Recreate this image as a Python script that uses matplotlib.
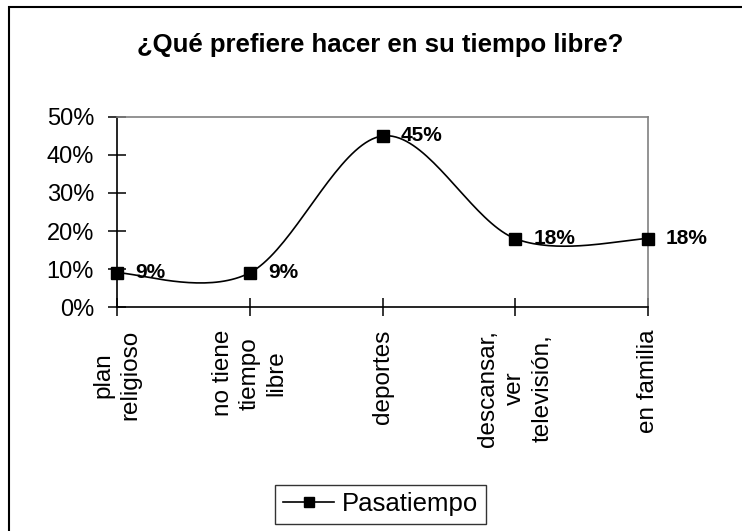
import numpy as np
import matplotlib.pyplot as plt
from matplotlib.patches import Rectangle

plt.rcParams['font.family'] = ['Liberation Sans', 'DejaVu Sans']

# Data
categorias = ['plan\nreligioso', 'no tiene\ntiempo\nlibre', 'deportes',
              'descansar,\nver\ntelevisión,', 'en familia']
valores = [0.09, 0.09, 0.45, 0.18, 0.18]
etiquetas = ['9%', '9%', '45%', '18%', '18%']
serie = 'Pasatiempo'
yticks = [0, 0.1, 0.2, 0.3, 0.4, 0.5]
ytick_labels = ['0%', '10%', '20%', '30%', '40%', '50%']


def suavizar(x, y, n=40):
    # Excel-style smoothed line (Bezier with 1/6 tangents)
    x = np.asarray(x, float)
    y = np.asarray(y, float)
    px = np.concatenate([[x[0]], x, [x[-1]]])
    py = np.concatenate([[y[0]], y, [y[-1]]])
    xs, ys = [], []
    t = np.linspace(0, 1, n)
    for i in range(1, len(px) - 2):
        p0 = np.array([px[i], py[i]])
        p3 = np.array([px[i + 1], py[i + 1]])
        p1 = p0 + (np.array([px[i + 1], py[i + 1]]) - np.array([px[i - 1], py[i - 1]])) / 6
        p2 = p3 - (np.array([px[i + 2], py[i + 2]]) - np.array([px[i], py[i]])) / 6
        b = ((1 - t) ** 3)[:, None] * p0 + (3 * (1 - t) ** 2 * t)[:, None] * p1 \
            + (3 * (1 - t) * t ** 2)[:, None] * p2 + (t ** 3)[:, None] * p3
        xs.extend(b[:, 0])
        ys.extend(b[:, 1])
    return np.array(xs), np.array(ys)


fig = plt.figure(figsize=(7.42, 5.31), dpi=100)
ax = fig.add_axes([0.1577, 0.4218, 0.7156, 0.3579])

x = np.arange(len(categorias))
sx, sy = suavizar(x, valores)
ax.plot(sx, sy, color='black', lw=1.2, zorder=3, clip_on=False)
ax.plot(x, valores, 's', color='black', markersize=8.5, zorder=4, clip_on=False)
# legend proxy
ax.plot([], [], '-s', color='black', lw=1.2, markersize=7, label=serie)

for xi, v, lab in zip(x, valores, etiquetas):
    ax.annotate(lab, (xi, v), xytext=(13, 0), textcoords='offset points',
                ha='left', va='center', fontsize=15, fontweight='bold', zorder=5)

ax.set_xlim(0, len(categorias) - 1)
ax.set_ylim(0, 0.5)
ax.set_yticks(yticks)
ax.set_yticklabels(ytick_labels, fontsize=17)
ax.set_xticks(x)
ax.set_xticklabels(categorias, rotation=90, fontsize=17.5, ha='center', va='top',
                   multialignment='center', linespacing=1.3)
ax.tick_params(axis='both', direction='inout', length=13, width=1.1, color='black')
ax.tick_params(axis='y', pad=10)
ax.tick_params(axis='x', pad=10)

for s in ['left', 'bottom']:
    ax.spines[s].set_color('black')
    ax.spines[s].set_linewidth(1.2)
for s in ['top', 'right']:
    ax.spines[s].set_color('#808080')
    ax.spines[s].set_linewidth(1.2)

fig.text(0.512, 0.915, '¿Qué prefiere hacer en su tiempo libre?', ha='center',
         va='center', fontsize=18.5, fontweight='bold')

leg = fig.legend(loc='center', bbox_to_anchor=(0.513, 0.05), fontsize=18.5,
                 frameon=True, fancybox=False, handlelength=2.0, handletextpad=0.3,
                 borderpad=0.3, borderaxespad=0)
leg.get_frame().set_edgecolor('black')
leg.get_frame().set_linewidth(1.0)

fig.patches.append(Rectangle((9 / 742, -0.2), 1.2, 1.2 - 7 / 531, transform=fig.transFigure,
                             fill=False, edgecolor='black', linewidth=1.5))

fig.savefig('out.png', dpi=100)
